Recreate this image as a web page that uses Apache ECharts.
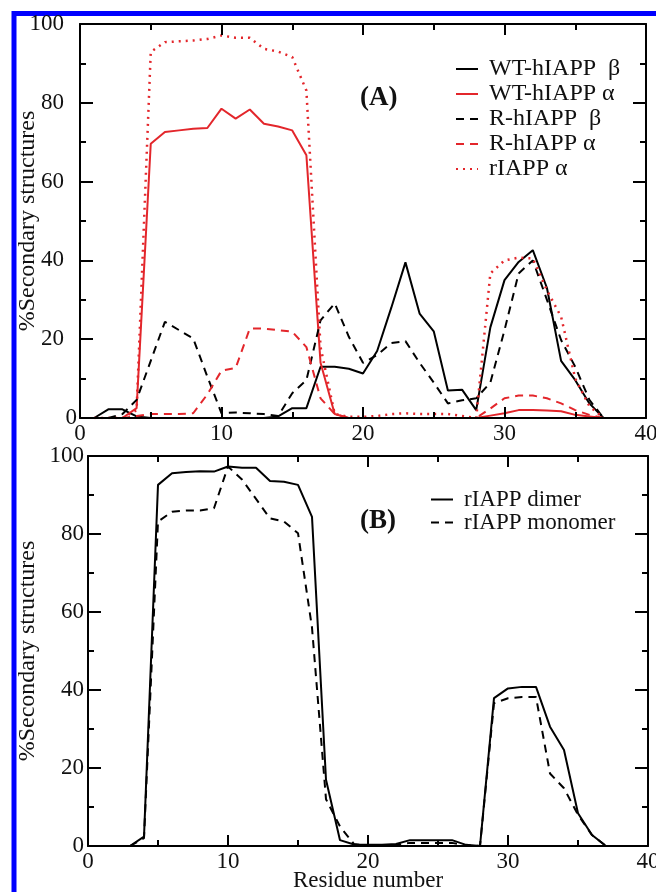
<!DOCTYPE html>
<html>
<head>
<meta charset="utf-8">
<script src="https://cdn.jsdelivr.net/npm/echarts@6/dist/echarts.min.js"></script>
<style>
html,body{margin:0;padding:0;background:#fff;}
#chart{width:656px;height:892px;}
</style>
</head>
<body>
<div id="chart"></div>
<script>
// ---- data ----
const residues = [1,2,3,4,5,6,7,8,9,10,11,12,13,14,15,16,17,18,19,20,21,22,23,24,25,26,27,28,29,30,31,32,33,34,35,36,37];
// panel A
const wtBeta   = [0,2.2,2.2,0.4,0,0,0,0,0,0,0,0,0,0.4,2.5,2.5,13,13,12.5,11.3,17,28,39.5,26.5,22,7,7.2,2,23,35,39.6,42.6,33,14.5,9.6,3.7,0];
const wtAlpha  = [0,0,0,2.5,69.6,72.6,73,73.4,73.6,78.5,76,78.3,74.7,74,73,66.7,14,1,0,0,0,0,0,0,0,0,0,0,0.6,1.2,2,2,1.9,1.7,0.8,0.4,0];
const rBeta    = [0,0,1,4.6,14.5,24.4,22.3,20.2,10.5,1.2,1.4,1.2,1,0.5,6.3,9.6,24.8,29.1,20.6,14,16,19,19.5,14,9,3.7,4.5,5,9,22.3,36.7,40,30,19.8,13,4.6,0];
const rAlpha   = [0,0,0,0.5,1,1,1,1.2,6,12,12.7,22.7,22.7,22.3,21.9,18,5,1,0,0,0,0,0,0,0,0,0,0,2.4,5,5.7,5.7,5,3.7,2,0.8,0];
const ratAlpha = [0,0,0,2,92.9,95.4,95.6,95.8,96.2,97.1,96.5,96.5,93.7,93,91.6,83.1,18,1,0.3,0.3,0.5,1,1.2,1,1,1,0.5,0,36.7,40,40.7,40.5,32.4,25.7,10,3,0];
// panel B
const dimer    = [0,0,0,2.4,92.6,95.6,95.9,96.1,96,97.3,97,97,93.6,93.4,92.6,84.4,17,1.5,0.4,0.3,0.3,0.5,1.5,1.5,1.5,1.5,0.3,0,37.9,40.4,40.8,40.8,30.6,24.6,8.4,2.8,0];
const monomer  = [0,0,0,2,83.2,85.7,86,86,86.6,97.3,94,89,84,83.2,80.2,56,12,5,0.5,0,0,0.3,0.8,0.8,0.8,0.8,0.2,0,36.6,37.9,38.2,38.2,18.6,14.8,8,2.8,0];
const xTicks = [0,10,20,30,40];
const yTicks = [0,20,40,60,80,100];
const namesA = ['WT-hIAPP  β','WT-hIAPP α','R-hIAPP  β','R-hIAPP α','rIAPP α'];
const namesB = ['rIAPP dimer','rIAPP monomer'];

const RED = '#e3262b';
const FONT = 'Liberation Serif';
const pairs = v => residues.map((r,i)=>[r,v[i]]);

function xAx(grid, pos, labels, margin, name){
  return {type:'value', gridIndex:grid, position:pos, min:xTicks[0], max:xTicks[xTicks.length-1], interval:10, z:5,
    axisLine:{show:true, onZero:false, lineStyle:{color:'#000', width:2}},
    axisTick:{show:true, inside:true, length:11, lineStyle:{color:'#000', width:2}},
    minorTick:{show:true, splitNumber:2, length:6, lineStyle:{color:'#000', width:2}},
    splitLine:{show:false},
    axisLabel:{show:labels, color:'#111', fontFamily:FONT, fontSize:23, margin:margin},
    name: name || '', nameLocation:'middle', nameGap:23, nameMoveOverlap:false,
    nameTextStyle:{color:'#111', fontFamily:FONT, fontSize:23}
  };
}
function yAx(grid, pos, labels, gap, margin, fmt){
  return {type:'value', gridIndex:grid, position:pos, min:yTicks[0], max:yTicks[yTicks.length-1], interval:20, z:5,
    axisLine:{show:true, onZero:false, lineStyle:{color:'#000', width:2}},
    axisTick:{show:true, inside:true, length:13, lineStyle:{color:'#000', width:2}},
    minorTick:{show:true, splitNumber:2, length:6, lineStyle:{color:'#000', width:2}},
    splitLine:{show:false},
    axisLabel:{show:labels, color:'#111', fontFamily:FONT, fontSize:23, margin:margin, formatter:fmt},
    name: labels ? '%Secondary structures' : '', nameLocation:'middle', nameGap:gap, nameMoveOverlap:false,
    nameTextStyle:{color:'#111', fontFamily:FONT, fontSize:24}
  };
}
function ser(name, v, xi, yi, color, type, w){
  return {name:name, type:'line', xAxisIndex:xi, yAxisIndex:yi, data:pairs(v), symbol:'none',
    lineStyle:{color:color, width:w||2, type:type}, itemStyle:{color:color}, z:2, animation:false};
}

// extra left axis of panel A carrying only the "0" label (set closer to the axis, as in the original)
const zeroOnly = yAx(0,'left',true,0,3, v => v===0 ? '0' : '');
zeroOnly.name = '';
zeroOnly.axisLine = {show:false}; zeroOnly.axisTick = {show:false}; zeroOnly.minorTick = {show:false};

const chart = echarts.init(document.getElementById('chart'), null, {renderer:'canvas'});
chart.setOption({
  animation:false,
  backgroundColor:'#fff',
  grid:[
    {left:80, top:24, width:566, height:394, containLabel:false, outerBoundsMode:'none'},
    {left:88, top:456, width:560, height:390, containLabel:false, outerBoundsMode:'none'}
  ],
  xAxis:[xAx(0,'bottom',true,4), xAx(0,'top',false,4), xAx(1,'bottom',true,4,'Residue number'), xAx(1,'top',false,4)],
  yAxis:[
    yAx(0,'left',true,40,16, v => v===0 ? '' : String(v)),
    yAx(0,'right',false,0,8),
    yAx(1,'left',true,48,4),
    yAx(1,'right',false,0,8),
    zeroOnly
  ],
  legend:[
    {data:namesA, orient:'vertical', left:455, top:57, padding:0, itemWidth:22, itemHeight:14, itemGap:1,
     itemStyle:{opacity:0},
     textStyle:{fontFamily:FONT, fontSize:24, color:'#111', lineHeight:24, padding:[0,0,0,6]}, selectedMode:false},
    {data:namesB, orient:'vertical', left:430, top:488, padding:0, itemWidth:22, itemHeight:14, itemGap:0,
     itemStyle:{opacity:0},
     textStyle:{fontFamily:FONT, fontSize:23, color:'#111', lineHeight:19, padding:[0,0,0,6]}, selectedMode:false}
  ],
  graphic:[
    {type:'rect', shape:{x:14, y:13.5, width:800, height:1000}, style:{fill:'none', stroke:'#0000ff', lineWidth:5}, silent:true},
    {type:'text', left:360, top:85, style:{text:'(A)', fontFamily:FONT, fontSize:27, fontWeight:'bold', fill:'#111'}},
    {type:'text', left:360, top:508, style:{text:'(B)', fontFamily:FONT, fontSize:27, fontWeight:'bold', fill:'#111'}}
  ],
  series:[
    ser(namesA[0], wtBeta, 0, 0, '#000', 'solid'),
    ser(namesA[1], wtAlpha, 0, 0, RED, 'solid'),
    ser(namesA[2], rBeta, 0, 0, '#000', [8,6]),
    ser(namesA[3], rAlpha, 0, 0, RED, [8,6]),
    ser(namesA[4], ratAlpha, 0, 0, RED, [2,5], 2.5),
    ser(namesB[0], dimer, 2, 2, '#000', 'solid'),
    ser(namesB[1], monomer, 2, 2, '#000', [8,6])
  ]
});
</script>
</body>
</html>
